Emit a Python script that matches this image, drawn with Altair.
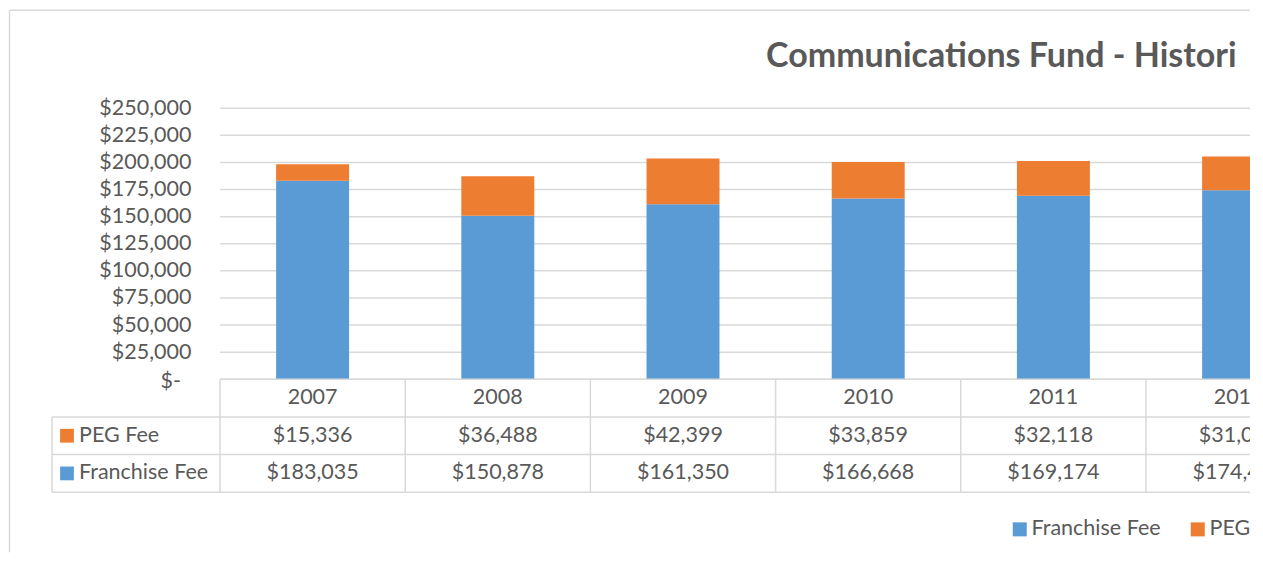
import altair as alt
import pandas as pd

# ---------------- data ----------------
years = ["2007", "2008", "2009", "2010", "2011", "2012"]
franchise_fee = [183035, 150878, 161350, 166668, 169174, 174412]
peg_fee = [15336, 36488, 42399, 33859, 32118, 31046]
series = ["Franchise Fee", "PEG Fee"]
series_colors = ["#5B9BD5", "#ED7D31"]
y_ticks = [0, 25000, 50000, 75000, 100000, 125000, 150000, 175000, 200000, 225000, 250000]
zero_label = "$-"
table_rows = ["Year", "PEG Fee", "Franchise Fee"]
title_text = "Communications Fund - Historical Revenues"

# ---------------- style ----------------
FONT = "Lato"
TXT = "#595959"
GRID = "#d9d9d9"
STEP = 185.2
W_FULL = STEP * len(years)
W_VIS = 1030
H_PLOT = 271
H_TABLE = 113
FS = 21.5

bars_df = pd.DataFrame({
    "year": years * 2,
    "series": [series[0]] * len(years) + [series[1]] * len(years),
    "value": franchise_fee + peg_fee,
    "stack": [0] * len(years) + [1] * len(years),
})

x_bar_scale = alt.Scale(domain=years, range=[0, W_FULL], paddingInner=0.606, paddingOuter=0.303)
y_scale = alt.Scale(domain=[0, 250000], nice=False)

label_expr = "datum.value == 0 ? '' : '$' + format(datum.value, ',')"
y_axis = alt.Axis(values=y_ticks, labelExpr=label_expr, labelFontSize=FS,
                  labelColor=TXT, labelFont=FONT, ticks=False, tickSize=0,
                  domain=False, grid=False, labelPadding=29, title=None)

grid_df = pd.DataFrame({"v": y_ticks})
grid = alt.Chart(grid_df).mark_rule(color=GRID, strokeWidth=1.5).encode(
    y=alt.Y("v:Q", scale=y_scale, axis=y_axis))

zero_df = pd.DataFrame({"v": [y_ticks[0]], "t": [zero_label]})
zero_text = alt.Chart(zero_df).mark_text(
    align="right", baseline="middle", fontSize=FS, color=TXT, font=FONT, dy=3
).encode(y=alt.Y("v:Q", scale=y_scale, axis=y_axis), x=alt.value(-39), text="t:N")

bars = alt.Chart(bars_df).mark_bar(clip=True).encode(
    x=alt.X("year:N", sort=years, scale=x_bar_scale, axis=None),
    y=alt.Y("value:Q", stack="zero", scale=y_scale, axis=y_axis),
    color=alt.Color("series:N", scale=alt.Scale(domain=series, range=series_colors),
                    legend=alt.Legend(orient="none", legendX=789, legendY=410,
                                      direction="horizontal", title=None,
                                      symbolType="square", symbolSize=196,
                                      symbolStrokeWidth=0, symbolOpacity=1,
                                      labelFontSize=FS, labelColor=TXT, labelFont=FONT,
                                      labelOffset=1, columnPadding=26,
                                      # the chart is cut at its right edge
                                      labelExpr="datum.label == 'PEG Fee' ? 'PEG' : datum.label")),
    order=alt.Order("stack:Q", sort="ascending"),
)

title_df = pd.DataFrame({"t": [title_text]})
title_mark = alt.Chart(title_df).mark_text(
    align="left", baseline="alphabetic", fontSize=34, fontWeight="bold", color=TXT,
    font=FONT, limit=486, ellipsis="\u200b"
).encode(text="t:N", x=alt.value(546), y=alt.value(-41))

one = pd.DataFrame({"o": [0]})
border_top = alt.Chart(one).mark_rule(color=GRID, strokeWidth=1.5).encode(
    x=alt.value(-210.5), x2=alt.value(W_VIS), y=alt.value(-98))
border_left = alt.Chart(one).mark_rule(color=GRID, strokeWidth=1.5).encode(
    x=alt.value(-210.5), y=alt.value(-98), y2=alt.value(444))

chart_a = alt.layer(grid, bars, zero_text, title_mark, border_top, border_left).properties(
    width=W_VIS, height=H_PLOT)

# ---------------- data table ----------------
cells = []
for i, yr in enumerate(years):
    cells.append({"year": yr, "row": "Year", "label": yr})
    cells.append({"year": yr, "row": "PEG Fee", "label": "${:,}".format(peg_fee[i])})
    cells.append({"year": yr, "row": "Franchise Fee", "label": "${:,}".format(franchise_fee[i])})
cells_df = pd.DataFrame(cells)

x_tab_scale = alt.Scale(domain=years, range=[0, W_FULL], paddingInner=0, paddingOuter=0)
y_tab_scale = alt.Scale(domain=table_rows, paddingInner=0, paddingOuter=0)

tab_text = alt.Chart(cells_df).mark_text(fontSize=FS, color=TXT, font=FONT, clip=True).encode(
    x=alt.X("year:N", scale=x_tab_scale, axis=None),
    y=alt.Y("row:N", scale=y_tab_scale, axis=None),
    text="label:N",
)

years_df = pd.DataFrame({"year": years})
vlines = alt.Chart(years_df).mark_rule(color=GRID, strokeWidth=1.5).encode(
    x=alt.X("year:N", bandPosition=0, scale=x_tab_scale, axis=None))

rows_df = pd.DataFrame({"row": table_rows})
hlines = alt.Chart(rows_df).mark_rule(color=GRID, strokeWidth=1.5).encode(
    y=alt.Y("row:N", bandPosition=0, scale=y_tab_scale, axis=None))
hline_bottom = alt.Chart(pd.DataFrame({"row": [table_rows[-1]]})).mark_rule(
    color=GRID, strokeWidth=1.5).encode(
    y=alt.Y("row:N", bandPosition=1, scale=y_tab_scale, axis=None))

label_rows_df = pd.DataFrame({"row": table_rows[1:]})
left_h = alt.Chart(label_rows_df).mark_rule(color=GRID, strokeWidth=1.5).encode(
    x=alt.value(-168), x2=alt.value(0),
    y=alt.Y("row:N", bandPosition=0, scale=y_tab_scale, axis=None))
left_h_bottom = alt.Chart(pd.DataFrame({"row": [table_rows[-1]]})).mark_rule(
    color=GRID, strokeWidth=1.5).encode(
    x=alt.value(-168), x2=alt.value(0),
    y=alt.Y("row:N", bandPosition=1, scale=y_tab_scale, axis=None))
left_v = alt.Chart(one).mark_rule(color=GRID, strokeWidth=1.5).encode(
    x=alt.value(-168), y=alt.value(H_TABLE / 3), y2=alt.value(H_TABLE))

row_squares = alt.Chart(label_rows_df).mark_square(size=190, opacity=1).encode(
    x=alt.value(-153),
    y=alt.Y("row:N", scale=y_tab_scale, axis=None),
    color=alt.Color("row:N", scale=alt.Scale(domain=series, range=series_colors), legend=None),
)
row_labels = alt.Chart(label_rows_df).mark_text(
    align="left", baseline="middle", fontSize=FS, color=TXT, font=FONT).encode(
    x=alt.value(-141),
    y=alt.Y("row:N", scale=y_tab_scale, axis=None),
    text="row:N",
)

chart_b = alt.layer(hlines, hline_bottom, vlines, left_h, left_h_bottom, left_v,
                    tab_text, row_squares, row_labels).properties(width=W_VIS, height=H_TABLE)

# ---------------- crop mask (chart's cut right edge) ----------------
chart_c = alt.Chart(one).mark_rect(color="white").encode(
    x=alt.value(W_VIS + 0.5), x2=alt.value(W_VIS + 4),
    y=alt.value(-472), y2=alt.value(60)).properties(width=W_VIS, height=1)

chart = alt.vconcat(chart_a, chart_b, chart_c, spacing=0, bounds="flush").resolve_scale(
    x="independent", y="independent", color="independent"
).properties(
    padding={"left": 0, "top": 1.25, "right": 0, "bottom": 0}
).configure(font=FONT).configure_view(stroke=None)

chart.save("out.html", embed_options={"renderer": "svg", "actions": False})
